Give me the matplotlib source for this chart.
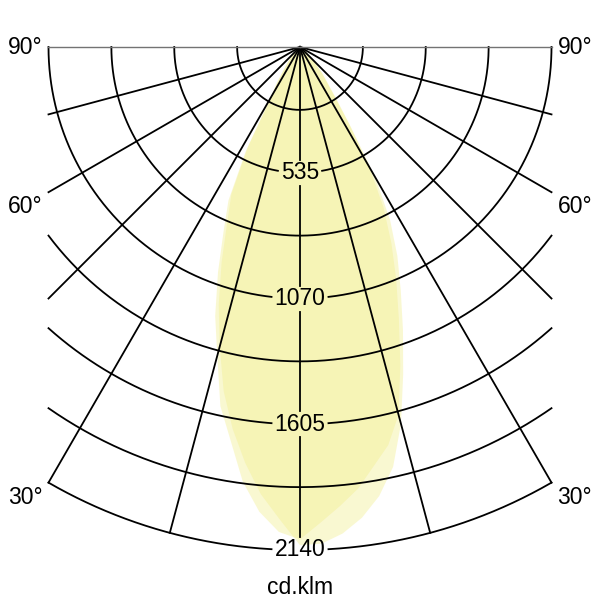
import numpy as np
import matplotlib
matplotlib.use("Agg")
import matplotlib.pyplot as plt
from matplotlib.patches import Polygon

plt.rcParams['font.family'] = ['Liberation Sans', 'DejaVu Sans']

# -------- data (cd/klm) ------------------------------------------------
angles = [0, 2.5, 5, 7.5, 10, 12.5, 15, 17.5, 20, 22.5, 25, 27.5,
          30, 32.5, 35, 40, 45, 50, 60, 70, 80, 90]
# curve A : C0 (right half) / C180 (left half)
c0_right = [2095, 2025, 1960, 1895, 1810, 1735, 1620, 1420, 1230, 1070,
            920, 770, 590, 390, 255, 145, 75, 38, 10, 0, 0, 0]
c180_left = [2095, 2065, 1985, 1865, 1700, 1565, 1360, 1200, 1020, 850,
             720, 500, 250, 190, 130, 70, 32, 15, 5, 0, 0, 0]
# curve B : C90 (right half) / C270 (left half)
c90_right = [2120, 2115, 2078, 2020, 1940, 1830, 1660, 1460, 1281, 1120,
             980, 830, 640, 400, 270, 150, 80, 40, 10, 0, 0, 0]
c270_left = [2120, 2010, 1910, 1785, 1650, 1500, 1320, 1150, 975, 810,
             690, 480, 240, 180, 125, 65, 30, 15, 5, 0, 0, 0]

ring_step = 267.5
ring_count = 8
ring_labels = ["535", "1070", "1605", "2140"]
spoke_angles = [0, 15, 30, 45, 60, 75, 90]
side_labels = {30: "30°", 60: "60°", 90: "90°"}
unit_label = "cd.klm"

# -------- geometry ------------------------------------------------------
R_MAX = ring_step * ring_count        # 2140
HALF_W = R_MAX / 2                    # clip half width (1070)
PX = R_MAX / 503.0                    # data units per pixel
FS = 16.5


def polar_xy(theta_deg, r):
    t = np.radians(theta_deg)
    return r * np.sin(t), -r * np.cos(t)


fig = plt.figure(figsize=(6, 6), dpi=100)
ax = fig.add_axes([0, 0, 1, 1])
ax.set_xlim(-300 * PX, 300 * PX)
ax.set_ylim(-553 * PX, 47 * PX)
ax.axis("off")

# -------- light distribution curves -------------------------------------
ang = np.array(angles, dtype=float)
for left, right in [(c180_left, c0_right), (c270_left, c90_right)]:
    th = np.concatenate([-ang[::-1], ang[1:]])
    rr = np.concatenate([np.array(left)[::-1], np.array(right)[1:]])
    x, y = polar_xy(th, rr)
    ax.add_patch(Polygon(np.column_stack([x, y]), closed=True,
                         fc="#f2ee8e", ec="none", alpha=0.4, zorder=1))

# -------- grid ----------------------------------------------------------
LW = 1.3
gap_h = 13 * PX
for k in range(1, ring_count + 1):
    r = k * ring_step
    lim = 90.0 if r <= HALF_W else np.degrees(np.arcsin(HALF_W / r))
    if k % 2 == 0:
        n = len(ring_labels[k // 2 - 1])
        gap_w = (n * 0.556 * FS * 100 / 72 / 2 + 3) * PX
        g = np.degrees(np.arcsin(gap_w / r))
        parts = [(-lim, -g), (g, lim)]
    else:
        parts = [(-lim, lim)]
    for a0, a1 in parts:
        t = np.linspace(a0, a1, 200)
        x, y = polar_xy(t, r)
        ax.plot(x, y, color="black", lw=LW, zorder=2)

for a in spoke_angles:
    if a == 0:
        start = 0.0
        for k in range(2, ring_count + 1, 2):
            r = k * ring_step
            x, y = polar_xy(np.array([0, 0]), np.array([start, r - gap_h]))
            ax.plot(x, y, color="black", lw=LW, zorder=2)
            start = r + gap_h
        continue
    r_end = min(R_MAX, HALF_W / np.sin(np.radians(a)))
    for s in (-1, 1):
        x, y = polar_xy(np.array([s * a, s * a]), np.array([0, r_end]))
        if a == 90:
            ax.plot(x, y, color="0.45", lw=1.0, zorder=2)
        else:
            ax.plot(x, y, color="black", lw=LW, zorder=2)

# -------- labels --------------------------------------------------------
for k, lab in zip(range(2, ring_count + 1, 2), ring_labels):
    ax.text(0, -k * ring_step, lab, ha="center", va="center",
            fontsize=FS, zorder=3)

for a, lab in side_labels.items():
    if a == 90:
        yl = 0.0
    else:
        yl = -HALF_W / np.tan(np.radians(a)) - 14.5 * PX
    ax.text(-HALF_W - 6 * PX, yl, lab, ha="right", va="center", fontsize=FS)
    ax.text(HALF_W + 6 * PX, yl, lab, ha="left", va="center", fontsize=FS)

ax.text(0, -541 * PX, unit_label, ha="center", va="center", fontsize=FS)

fig.savefig("out.png", dpi=100, facecolor="white")
